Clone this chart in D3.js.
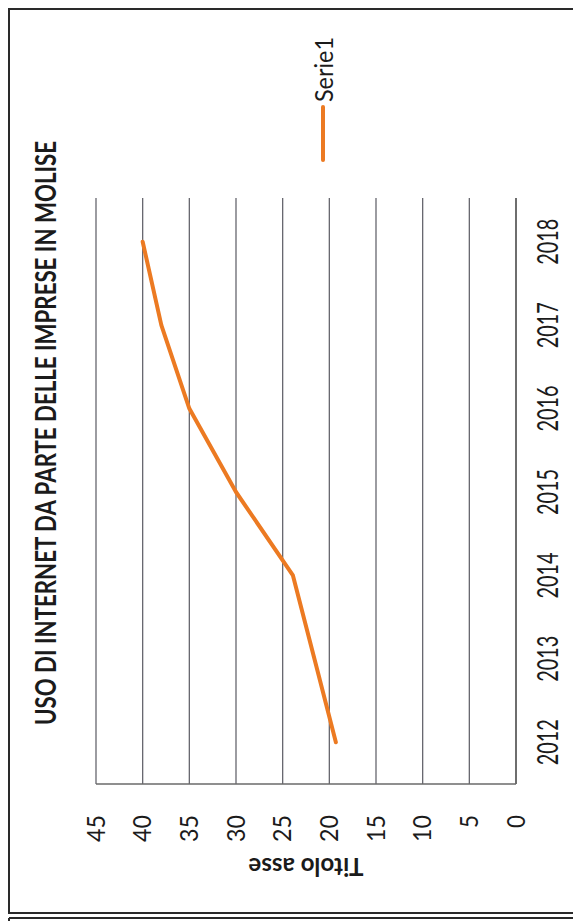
<!DOCTYPE html>
<html>
<head>
<meta charset="utf-8">
<script src="https://cdn.jsdelivr.net/npm/d3@7"></script>
<style>
  html, body { margin: 0; padding: 0; background: #ffffff; }
  svg text { font-family: Lato, "Open Sans", sans-serif; fill: #1b1b1b; }
</style>
</head>
<body>
<div id="chart"></div>
<script>
// dati (scansione ruotata di 90 gradi)
var years = ["2012", "2013", "2014", "2015", "2016", "2017", "2018"];
var values = [19.3, 21.6, 23.9, 30, 35, 38, 40];
var valueTicks = [0, 5, 10, 15, 20, 25, 30, 35, 40, 45];
var chartTitle = "USO DI INTERNET DA PARTE DELLE IMPRESE IN MOLISE";
var axisTitle = "Titolo asse";
var seriesName = "Serie1";

var w = 573, h = 921;
var plotLeft = 96, plotRight = 516, plotTop = 200, plotBottom = 784;
var orange = "#ec7a22", gridColor = "#66666e";

var svg = d3.select("#chart")
  .append("svg")
  .attr("width", w)
  .attr("height", h);

// cornice della pagina (il lato destro esce dalla scansione)
svg.append("path")
  .attr("d", "M573,9H9V913H573M9,918H573M9,918V921")
  .style("fill", "none")
  .style("stroke", "#2a2a2a")
  .style("stroke-width", 2);

// valori in orizzontale (45 a sinistra), anni in verticale (2012 in basso)
var xScale = d3.scaleLinear().domain([0, 45]).range([plotRight, plotLeft]);
var yScale = d3.scaleBand().domain(years).range([plotBottom, plotTop]);
var yCenter = function(d) { return yScale(d) + yScale.bandwidth() / 2; };

var grid = svg.append("g").attr("class", "gridline");
grid.selectAll("line")
  .data(valueTicks.filter(function(d) { return d > 0; }))
  .enter().append("line")
  .attr("x1", function(d) { return xScale(d); })
  .attr("x2", function(d) { return xScale(d); })
  .attr("y1", plotTop - 2)
  .attr("y2", plotBottom)
  .style("stroke", gridColor)
  .style("stroke-width", 1.3);

// asse delle categorie + linea di base
svg.append("line")
  .attr("x1", xScale(0)).attr("x2", xScale(0))
  .attr("y1", plotTop - 2).attr("y2", plotBottom)
  .style("stroke", "#4a4a4a")
  .style("stroke-width", 1.6);

svg.append("line")
  .attr("x1", xScale(45)).attr("x2", xScale(0))
  .attr("y1", plotBottom).attr("y2", plotBottom)
  .style("stroke", "#6a6a6a")
  .style("stroke-width", 1.3);

// serie
var line = d3.line()
  .x(function(d) { return xScale(d.v); })
  .y(function(d) { return yCenter(d.y); });

var series = years.map(function(y, i) { return { y: y, v: values[i] }; });

svg.append("path")
  .datum(series)
  .attr("d", line)
  .style("fill", "none")
  .style("stroke", orange)
  .style("stroke-width", 4)
  .style("stroke-linejoin", "round")
  .style("stroke-linecap", "round");

// etichette valori (ruotate)
svg.append("g").attr("class", "x axis")
  .selectAll("text")
  .data(valueTicks)
  .enter().append("text")
  .attr("transform", function(d) { return "translate(" + xScale(d) + ",815) rotate(-90)"; })
  .attr("text-anchor", "end")
  .attr("dy", "0.35em")
  .attr("textLength", function(d) { return d >= 10 ? 27 : 13; })
  .attr("lengthAdjust", "spacingAndGlyphs")
  .style("font-size", "25px")
  .text(function(d) { return d; });

// etichette anni
svg.append("g").attr("class", "y axis")
  .selectAll("text")
  .data(years)
  .enter().append("text")
  .attr("transform", function(d) { return "translate(548," + yCenter(d) + ") rotate(-90)"; })
  .attr("text-anchor", "middle")
  .attr("dy", "0.35em")
  .attr("textLength", 46)
  .attr("lengthAdjust", "spacingAndGlyphs")
  .style("font-size", "29px")
  .text(function(d) { return d; });

// titolo
svg.append("text")
  .attr("transform", "translate(46,433) rotate(-90)")
  .attr("text-anchor", "middle")
  .attr("dy", "0.35em")
  .attr("textLength", 584)
  .attr("lengthAdjust", "spacingAndGlyphs")
  .style("font-size", "29px")
  .style("font-weight", "bold")
  .text(chartTitle);

// titolo asse (capovolto)
svg.append("text")
  .attr("transform", "translate(" + (plotLeft + plotRight) / 2 + ",866) rotate(180)")
  .attr("text-anchor", "middle")
  .attr("dy", "0.35em")
  .attr("textLength", 115)
  .attr("lengthAdjust", "spacingAndGlyphs")
  .style("font-size", "24px")
  .style("font-weight", "bold")
  .text(axisTitle);

// legenda
var legend = svg.append("g").attr("class", "legend");
legend.append("line")
  .attr("x1", 323).attr("x2", 323)
  .attr("y1", 107).attr("y2", 160)
  .style("stroke", orange)
  .style("stroke-width", 4)
  .style("stroke-linecap", "round");

legend.append("text")
  .attr("transform", "translate(324,102) rotate(-90)")
  .attr("text-anchor", "start")
  .attr("dy", "0.35em")
  .attr("textLength", 65)
  .attr("lengthAdjust", "spacingAndGlyphs")
  .style("font-size", "25px")
  .text(seriesName);
</script>
</body>
</html>
